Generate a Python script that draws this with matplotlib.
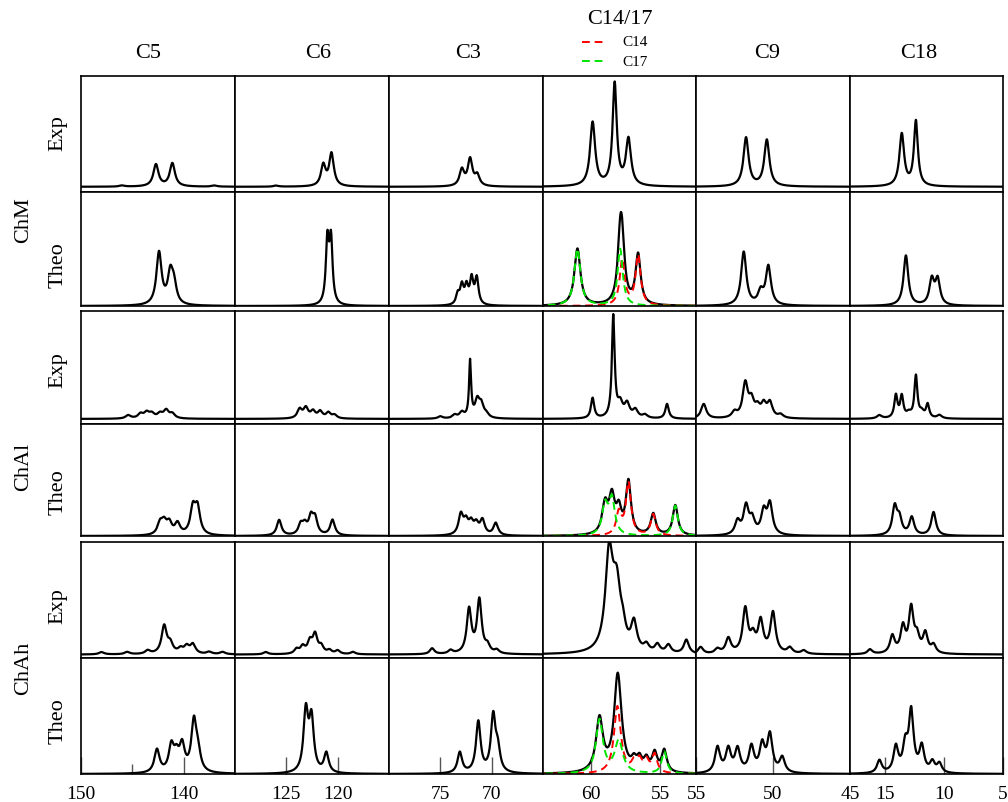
import numpy as np
import matplotlib
matplotlib.use("Agg")
import matplotlib.pyplot as plt
from matplotlib.lines import Line2D

plt.rcParams['font.family'] = ['Liberation Serif', 'DejaVu Serif']

W, H = 1008, 803

carbons = ['C5', 'C6', 'C3', 'C14/17', 'C9', 'C18']
systems = ['ChM', 'ChAl', 'ChAh']
kinds = ['Exp', 'Theo']

# ppm window of each column, drawn high -> low
ppm_windows = [(150, 135), (130, 115), (80, 65), (63.5, 52.4), (55, 45), (18, 5)]
tick_values = [[150, 140], [125, 120], [75, 70], [60, 55], [55, 50, 45], [15, 10, 5]]
minor_ticks = [[145], [], [], [], [], []]
hwhm = [0.3, 0.27, 0.27, 0.22, 0.2, 0.24]
exp_baseline = [0.045, 0.045, 0.03]

# peak tables: (shift ppm, height as fraction of panel, optional half width)
chm_exp = [
    [(142.7, 0.19), (141.1, 0.20), (146.0, 0.01), (137.0, 0.01)],
    [(121.4, 0.18), (120.6, 0.28), (126.0, 0.01)],
    [(72.9, 0.14), (72.1, 0.23), (71.4, 0.09)],
    [(59.9, 0.55), (58.3, 0.88, 0.18), (57.3, 0.40)],
    [(51.75, 0.42), (50.4, 0.40)],
    [(13.6, 0.45), (12.4, 0.56, 0.2)],
]
chm_theo = [
    [(142.4, 0.46), (141.3, 0.26), (140.95, 0.16)],
    [(121.0, 0.55, 0.18), (120.65, 0.55, 0.18)],
    [(73.3, 0.09, 0.2), (72.9, 0.16, 0.2), (72.45, 0.15, 0.2), (71.95, 0.22, 0.2),
     (71.45, 0.23, 0.2)],
    None,
    [(51.9, 0.47), (50.8, 0.11), (50.3, 0.34)],
    [(13.25, 0.44), (11.05, 0.22), (10.55, 0.22)],
]
chal_exp = [
    [(145.4, 0.03), (144.2, 0.04), (143.6, 0.05), (143.1, 0.04), (142.3, 0.04),
     (141.7, 0.07), (141.1, 0.04)],
    [(123.7, 0.08), (123.1, 0.09), (122.4, 0.06), (121.7, 0.06), (120.9, 0.05),
     (120.3, 0.03)],
    [(75.0, 0.02), (73.6, 0.03), (72.9, 0.05), (72.1, 0.50, 0.12), (71.4, 0.15),
     (71.0, 0.11), (70.5, 0.03)],
    [(59.9, 0.18, 0.14), (58.4, 0.90, 0.12), (57.9, 0.12), (57.4, 0.12), (56.8, 0.07),
     (56.1, 0.03), (54.5, 0.13, 0.15)],
    [(54.5, 0.13), (52.5, 0.05), (51.8, 0.30), (51.4, 0.14), (51.0, 0.08),
     (50.6, 0.11), (50.2, 0.13), (49.5, 0.03)],
    [(15.5, 0.03), (14.1, 0.20, 0.16), (13.6, 0.19, 0.16), (13.0, 0.04),
     (12.4, 0.37, 0.15), (11.9, 0.05), (11.4, 0.12, 0.16), (10.4, 0.03)],
]
chal_theo = [
    [(142.3, 0.10), (141.9, 0.10), (141.4, 0.10), (140.6, 0.10), (139.1, 0.23),
     (138.65, 0.23)],
    [(125.7, 0.14), (123.6, 0.09), (123.2, 0.08), (122.6, 0.15), (122.2, 0.14),
     (120.5, 0.14)],
    [(73.0, 0.18), (72.5, 0.11), (72.0, 0.10), (71.5, 0.09), (70.9, 0.13),
     (69.6, 0.11)],
    None,
    [(52.3, 0.12), (51.75, 0.25), (51.35, 0.13), (50.6, 0.20), (50.2, 0.27)],
    [(14.2, 0.25), (13.8, 0.14), (12.75, 0.16), (10.9, 0.21)],
]
chah_exp = [
    [(148.0, 0.02), (145.5, 0.02), (143.5, 0.03), (141.9, 0.24), (141.3, 0.08),
     (140.3, 0.04), (139.7, 0.06), (139.1, 0.08), (137.5, 0.02), (136.2, 0.02)],
    [(127.0, 0.02), (124.0, 0.04), (123.4, 0.06), (122.7, 0.10), (122.2, 0.16),
     (121.6, 0.06), (120.8, 0.03), (120.0, 0.03), (118.5, 0.02)],
    [(75.8, 0.05), (74.0, 0.03), (72.2, 0.38), (71.2, 0.46), (70.4, 0.06),
     (69.5, 0.03)],
    [(58.7, 0.82, 0.33), (58.15, 0.52, 0.35), (57.7, 0.12), (56.9, 0.24, 0.25),
     (56.0, 0.06), (55.2, 0.07), (54.4, 0.07), (53.1, 0.12)],
    [(54.7, 0.06), (53.6, 0.04), (52.9, 0.13), (51.8, 0.38), (51.3, 0.13),
     (50.8, 0.27), (50.0, 0.35), (48.9, 0.05), (48.0, 0.03)],
    [(16.3, 0.04), (14.4, 0.15), (13.5, 0.22), (12.8, 0.38), (12.3, 0.13),
     (11.6, 0.17), (10.9, 0.07)],
]
chah_theo = [
    [(142.6, 0.20), (141.2, 0.22), (140.7, 0.13), (140.15, 0.22), (139.0, 0.43),
     (138.6, 0.14)],
    [(123.1, 0.52), (122.55, 0.45), (121.1, 0.17)],
    [(73.1, 0.18), (71.3, 0.44), (69.85, 0.48), (69.4, 0.18)],
    None,
    [(53.6, 0.22), (52.9, 0.20), (52.3, 0.20), (51.4, 0.22), (50.7, 0.23),
     (50.2, 0.32), (49.4, 0.13)],
    [(15.5, 0.11), (14.1, 0.22), (13.3, 0.22), (12.8, 0.52), (11.9, 0.22),
     (11.0, 0.09), (10.4, 0.08)],
]

# C14 / C17 contributions to the theoretical C14/17 column
c14_theo = [
    [(57.75, 0.40), (56.6, 0.44)],
    [(58.0, 0.20), (57.3, 0.47), (55.5, 0.19)],
    [(58.1, 0.58, 0.3), (56.9, 0.08), (56.5, 0.10), (56.0, 0.10), (55.4, 0.16)],
]
c17_theo = [
    [(61.0, 0.50, 0.26), (57.9, 0.50)],
    [(59.0, 0.26, 0.25), (58.5, 0.32, 0.25), (53.9, 0.27)],
    [(59.4, 0.46, 0.3), (58.0, 0.28, 0.35), (54.7, 0.19)],
]

exp_rows = [chm_exp, chal_exp, chah_exp]
theo_rows = [chm_theo, chal_theo, chah_theo]

col_edges = [81, 235, 389, 543, 696, 850, 1003]
group_tops = [77, 312, 543]
group_mids = [193, 425, 659]
group_bottoms = [307, 537, 775]


def lorentz_sum(x, peaks, w):
    y = np.zeros_like(x)
    for p in peaks:
        width = p[2] if len(p) > 2 else w
        y += p[1] / (1 + ((x - p[0]) / width) ** 2)
    return y


def px_axes(fig, x0, x1, y0, y1):
    return fig.add_axes([x0 / W, 1 - y1 / H, (x1 - x0) / W, (y1 - y0) / H])


fig = plt.figure(figsize=(W / 100, H / 100), dpi=100)

for g in range(3):
    for k in range(2):
        top = group_tops[g] if k == 0 else group_mids[g]
        bottom = group_mids[g] if k == 0 else group_bottoms[g]
        for c in range(6):
            ax = px_axes(fig, col_edges[c], col_edges[c + 1], top, bottom)
            lo, hi = ppm_windows[c]
            x = np.linspace(hi, lo, 800)
            if k == 0:
                y = exp_baseline[g] + lorentz_sum(x, exp_rows[g][c], hwhm[c])
                ax.plot(x, y, color='black', lw=1.6)
            elif c == 3:
                y14 = lorentz_sum(x, c14_theo[g], hwhm[c])
                y17 = lorentz_sum(x, c17_theo[g], hwhm[c])
                ax.plot(x, y14 + y17, color='black', lw=1.6)
                ax.plot(x, y14, color='#ff0000', lw=1.4, dashes=(4, 2.5))
                ax.plot(x, y17, color='#00e600', lw=1.4, dashes=(4, 2.5))
            else:
                y = lorentz_sum(x, theo_rows[g][c], hwhm[c])
                ax.plot(x, y, color='black', lw=1.6)
            ax.set_xlim(lo, hi)
            ax.set_ylim(0, 1)
            ax.set_yticks([])
            for s in ax.spines.values():
                s.set_linewidth(1.2)
            if g == 2 and k == 1:
                ax.set_xticks(tick_values[c])
                ax.set_xticks(minor_ticks[c], minor=True)
                ax.tick_params(axis='x', direction='in', length=12, width=1,
                               color='#555555', labelsize=14, pad=8)
                ax.tick_params(axis='x', which='minor', direction='in', length=7,
                               width=1, color='#555555')
            else:
                ax.set_xticks([])

# column titles
title_x = [148, 318, 468, 620, 767, 919]
for c, name in enumerate(carbons):
    ty = 20 if c == 3 else 53
    fig.text(title_x[c] / W, 1 - ty / H, name, ha='center', va='center', fontsize=16)

# legend under the C14/17 title
for label, color, ly in [('C14', '#ff0000', 43), ('C17', '#00e600', 62)]:
    fig.add_artist(Line2D([582 / W, 607 / W], [1 - ly / H, 1 - ly / H], color=color,
                          lw=1.4, dashes=(4, 2.5), transform=fig.transFigure))
    fig.text(622 / W, 1 - ly / H, label, ha='left', va='center', fontsize=11)

# row labels
kind_y = [133, 265, 370, 492, 606, 721]
for i, yy in enumerate(kind_y):
    fig.text(58 / W, 1 - yy / H, kinds[i % 2], rotation=90, ha='center',
             va='center', fontsize=16)
system_y = [220, 467, 668]
for g, yy in enumerate(system_y):
    fig.text(24 / W, 1 - yy / H, systems[g], rotation=90, ha='center',
             va='center', fontsize=16)

fig.savefig('out.png', dpi=100)
